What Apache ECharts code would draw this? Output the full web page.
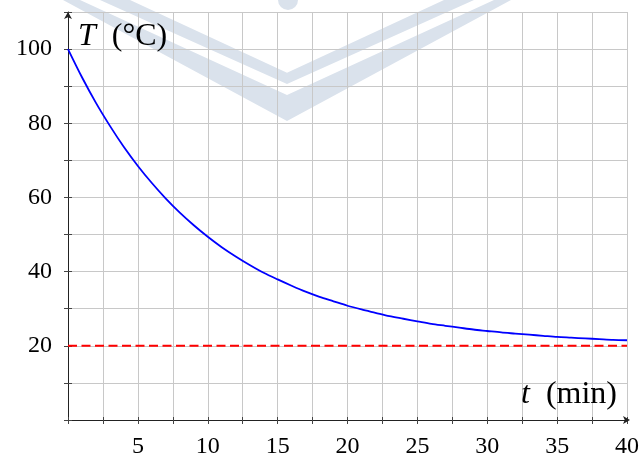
<!DOCTYPE html>
<html>
<head>
<meta charset="utf-8">
<script src="https://cdn.jsdelivr.net/npm/echarts@6/dist/echarts.min.js"></script>
<style>
html,body{margin:0;padding:0;background:#fff;}
#c{width:642px;height:459px;background:#fff;}
</style>
</head>
<body>
<div id="c"></div>
<script>
// time (min)
var times = [0,1,2,3,4,5,6,7,8,9,10,11,12,13,14,15,16,17,18,19,20,21,22,23,24,25,26,27,28,29,30,31,32,33,34,35,36,37,38,39,40];
// temperature (°C)
var temps = [100,92.4,85.5,79.3,73.6,68.5,63.9,59.7,55.9,52.5,49.4,46.6,44.1,41.8,39.7,37.9,36.2,34.6,33.2,32.0,30.8,29.8,28.9,28.0,27.3,26.6,25.9,25.4,24.9,24.4,24.0,23.6,23.3,23.0,22.7,22.4,22.2,22.0,21.8,21.6,21.5];
// ambient temperature
var ambientT = [0,40];
var ambientV = [20,20];
var xTicks = [5,10,15,20,25,30,35,40];
var yTicks = [20,40,60,80,100];

var curve = times.map(function(t,i){return [t,temps[i]];});
var ambient = ambientT.map(function(t,i){return [t,ambientV[i]];});

var serif = 'Liberation Serif';
var wm = '#dae2ec';

var chart = echarts.init(document.getElementById('c'), null, {renderer:'canvas'});
chart.setOption({
  animation:false,
  backgroundColor:'transparent',
  grid:{left:68,right:14,top:12,bottom:37.5},
  graphic:[
    {type:'polygon', zlevel:-1, z:-10, silent:true, shape:{points:[[100,0],[130,0],[287,72.7],[444,0],[474,0],[287,84]]}, style:{fill:wm}},
    {type:'polygon', zlevel:-1, z:-10, silent:true, shape:{points:[[63,0],[80,0],[287,95],[494,0],[511,0],[287,121]]}, style:{fill:wm}},
    {type:'circle', zlevel:-1, z:-10, silent:true, shape:{cx:288,cy:0,r:10}, style:{fill:wm}},
    {type:'text', left:78, top:21, z:10, style:{text:'{i|T}  (°C)', font:'32px "Liberation Serif"', fill:'#000', rich:{i:{fontStyle:'italic', fontFamily:serif, fontSize:32}}}},
    {type:'text', left:521, top:379, z:10, style:{text:'{i|t}  (min)', font:'32px "Liberation Serif"', fill:'#000', rich:{i:{fontStyle:'italic', fontFamily:serif, fontSize:32}}}}
  ],
  xAxis:[{
    type:'value', min:0, max:40, interval:2.5,
    axisLine:{show:true, symbol:['none','arrow'], symbolSize:[6,7], symbolOffset:[0,3], lineStyle:{color:'#222', width:1}},
    axisTick:{show:true, length:4, lineStyle:{color:'#444'}},
    axisLabel:{margin:15, fontFamily:serif, fontSize:24, color:'#000',
      formatter:function(v){return xTicks.indexOf(v)>=0 ? String(v) : '';}},
    splitLine:{show:true, lineStyle:{color:'#c8c8c8', width:1}}
  },{
    type:'value', min:0, max:40, interval:2.5, position:'bottom',
    axisLine:{show:false}, axisTick:{show:true, inside:true, length:3, lineStyle:{color:'#444'}},
    axisLabel:{show:false}, splitLine:{show:false}
  }],
  yAxis:[{
    type:'value', min:0, max:110, interval:10,
    axisLine:{show:true, symbol:['none','arrow'], symbolSize:[6,7], symbolOffset:[0,0], lineStyle:{color:'#222', width:1}},
    axisTick:{show:true, length:4, lineStyle:{color:'#444'}},
    axisLabel:{margin:16, fontFamily:serif, fontSize:24, color:'#000', padding:[3,0,0,0],
      formatter:function(v){return yTicks.indexOf(v)>=0 ? String(v) : '';}},
    splitLine:{show:true, lineStyle:{color:'#c8c8c8', width:1}}
  },{
    type:'value', min:0, max:110, interval:10, position:'left',
    axisLine:{show:false}, axisTick:{show:true, inside:true, length:4, lineStyle:{color:'#444'}},
    axisLabel:{show:false}, splitLine:{show:false}
  }],
  series:[
    {type:'line', data:ambient, xAxisIndex:0, yAxisIndex:0, symbol:'none', z:3,
     lineStyle:{color:'#ff0000', width:2, type:[9,4.5]}},
    {type:'line', data:curve, xAxisIndex:0, yAxisIndex:0, symbol:'none', smooth:0.3, z:4,
     lineStyle:{color:'#0000ff', width:1.8}}
  ]
});
</script>
</body>
</html>
